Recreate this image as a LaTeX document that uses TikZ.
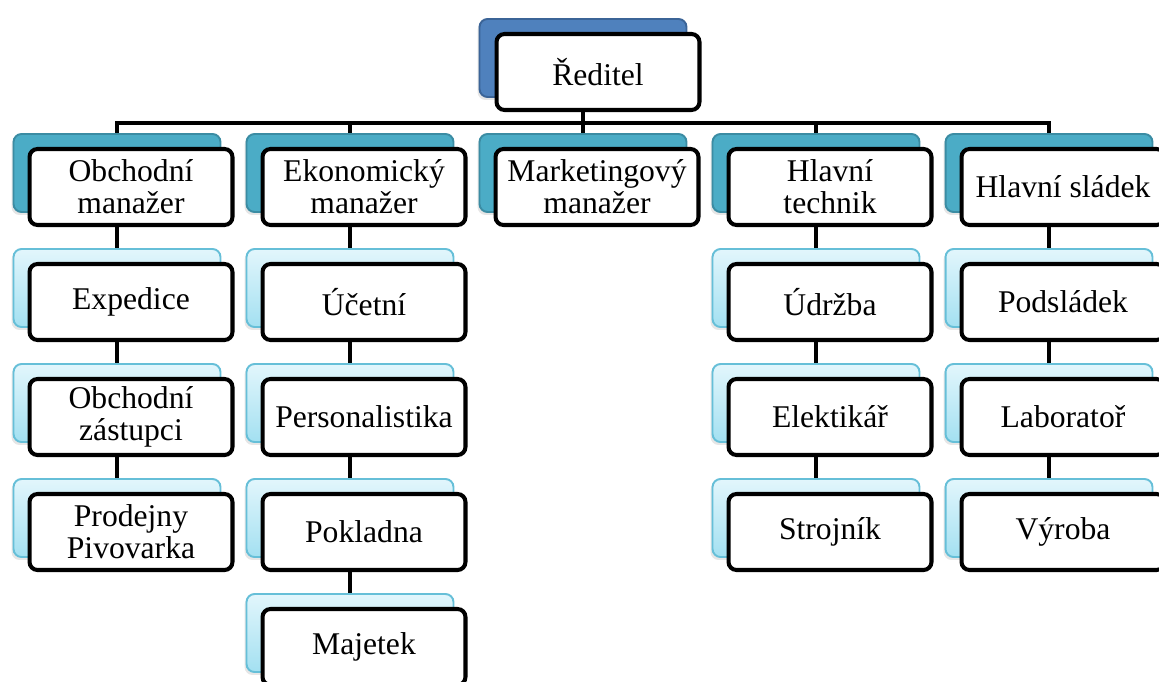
\documentclass[tikz,border=0pt]{standalone}
\usepackage{fontspec}
\setmainfont{Liberation Serif}
\usetikzlibrary{backgrounds,shadows}

\definecolor{topblue}{HTML}{4F81BD}
\definecolor{topblueline}{HTML}{3B6497}
\definecolor{mgrblue}{HTML}{4BACC6}
\definecolor{mgrline}{HTML}{3B8CA3}
\definecolor{subtop}{HTML}{E2F6FC}
\definecolor{subbottom}{HTML}{A3E0F1}
\definecolor{subline}{HTML}{66BFD8}

\tikzset{
  boxback/.style={rectangle, rounded corners=0.16cm, minimum width=4.14cm, minimum height=1.56cm,
    line width=1.1pt, drop shadow={shadow xshift=-0.04cm, shadow yshift=-0.06cm, opacity=0.2}},
  boxtop/.style={boxback, fill=topblue, draw=topblueline},
  boxmgr/.style={boxback, fill=mgrblue, draw=mgrline},
  boxsub/.style={boxback, top color=subtop, bottom color=subbottom, draw=subline},
  boxfront/.style={rectangle, rounded corners=0.16cm, draw=black, fill=white, line width=2.3pt,
    minimum width=4.06cm, minimum height=1.52cm, inner sep=0pt, align=center,
    font=\fontsize{18}{18.2}\selectfont},
  link/.style={line width=2.3pt}
}

\begin{document}
\begin{tikzpicture}[x=0.02cm, y=-0.02cm]
      \useasboundingbox (0,0) rectangle (1159,682);
      \clip (0,0) rectangle (1159,682);

      \node[boxtop] (reditelB) at (583,58) {};
      \node[boxfront] (reditel) at (598,72) {Ředitel};

      \node[boxmgr] (obchodB) at (117,173) {};
      \node[boxfront] (obchod) at (131,187) {Obchodní\\manažer};
      \node[boxmgr] (ekonomB) at (350,173) {};
      \node[boxfront] (ekonom) at (364,187) {Ekonomický\\manažer};
      \node[boxmgr] (marketB) at (583,173) {};
      \node[boxfront] (market) at (597,187) {Marketingový\\manažer};
      \node[boxmgr] (technikB) at (816,173) {};
      \node[boxfront] (technik) at (830,187) {Hlavní\\technik};
      \node[boxmgr] (sladekB) at (1049,173) {};
      \node[boxfront] (sladek) at (1063,187) {Hlavní sládek};

      \node[boxsub] (expediceB) at (117,288) {};
      \node[boxfront] (expedice) at (131,302) {Expedice};
      \node[boxsub] (zastupciB) at (117,403) {};
      \node[boxfront] (zastupci) at (131,417) {Obchodní\\zástupci};
      \node[boxsub] (prodejnyB) at (117,518) {};
      \node[boxfront] (prodejny) at (131,532) {Prodejny\\Pivovarka};

      \node[boxsub] (ucetniB) at (350,288) {};
      \node[boxfront] (ucetni) at (364,302) {Účetní};
      \node[boxsub] (personalB) at (350,403) {};
      \node[boxfront] (personal) at (364,417) {Personalistika};
      \node[boxsub] (pokladnaB) at (350,518) {};
      \node[boxfront] (pokladna) at (364,532) {Pokladna};
      \node[boxsub] (majetekB) at (350,633) {};
      \node[boxfront] (majetek) at (364,647) {Majetek};

      \node[boxsub] (udrzbaB) at (816,288) {};
      \node[boxfront] (udrzba) at (830,302) {Údržba};
      \node[boxsub] (elektrikarB) at (816,403) {};
      \node[boxfront] (elektrikar) at (830,417) {Elektikář};
      \node[boxsub] (strojnikB) at (816,518) {};
      \node[boxfront] (strojnik) at (830,532) {Strojník};

      \node[boxsub] (podsladekB) at (1049,288) {};
      \node[boxfront] (podsladek) at (1063,302) {Podsládek};
      \node[boxsub] (laboratorB) at (1049,403) {};
      \node[boxfront] (laborator) at (1063,417) {Laboratoř};
      \node[boxsub] (vyrobaB) at (1049,518) {};
      \node[boxfront] (vyroba) at (1063,532) {Výroba};

      \begin{pgfonlayer}{background}
        \coordinate (bus) at (583,123);
        \draw[link] (reditelB) -- (bus);
        \draw[link] (obchodB) |- (bus) -| (sladekB);
        \draw[link] (ekonomB) |- (bus);
        \draw[link] (marketB) -- (bus);
        \draw[link] (technikB) |- (bus);
        \draw[link] (obchodB) -- (prodejnyB);
        \draw[link] (ekonomB) -- (majetekB);
        \draw[link] (technikB) -- (strojnikB);
        \draw[link] (sladekB) -- (vyrobaB);
      \end{pgfonlayer}
    \end{tikzpicture}
\end{document}
